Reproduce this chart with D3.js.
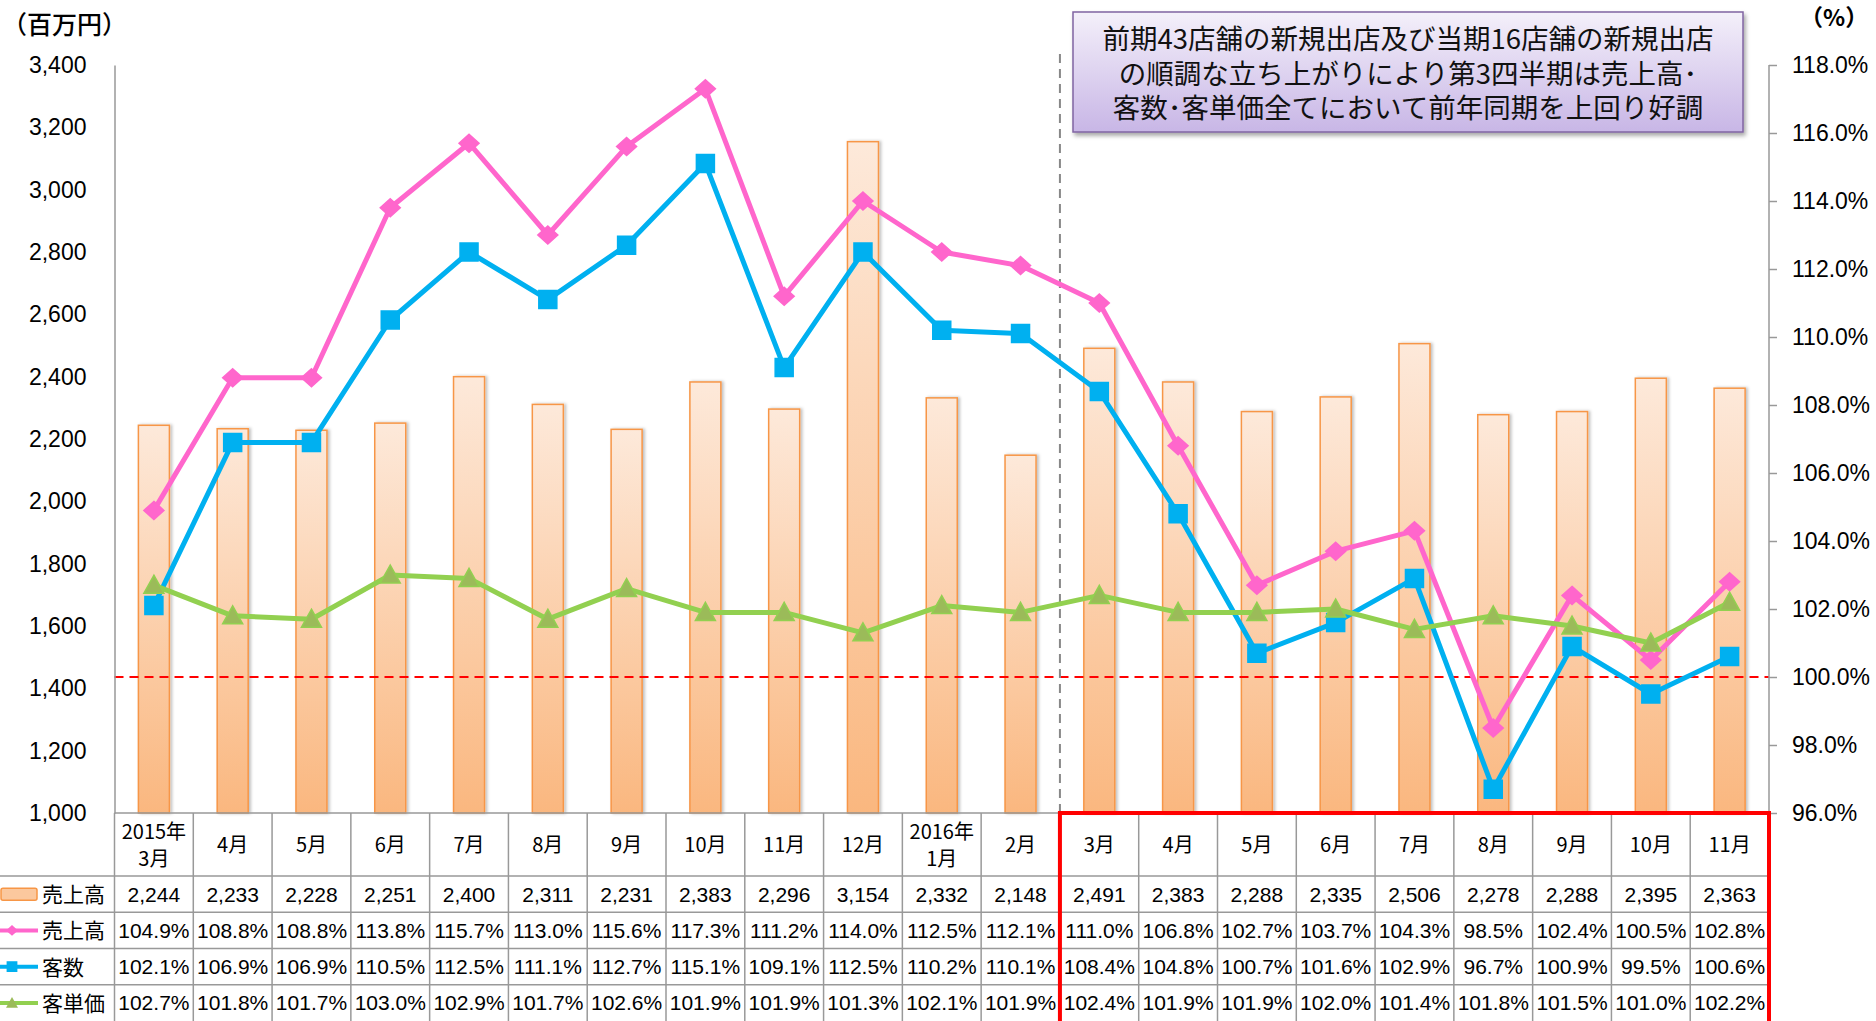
<!DOCTYPE html>
<html lang="ja">
<head>
<meta charset="UTF-8">
<script src="https://d3js.org/d3.v7.min.js"></script>
<title>売上高・客数・客単価 前年同月比</title>
<style>
    body { margin: 0; background: #fff; }
    svg { display: block; font-family: "Liberation Sans", Arial, sans-serif; }
    .jp { font-family: "Noto Sans CJK JP", sans-serif; }
</style>
</head>
<body>
<svg id="chart" width="1876" height="1021"></svg>
<script>
// data (売上高 in 百万円, others in % YoY)
const months = ["2015年|3月", "4月", "5月", "6月", "7月", "8月", "9月", "10月", "11月", "12月",
    "2016年|1月", "2月", "3月", "4月", "5月", "6月", "7月", "8月", "9月", "10月", "11月"];
const sales = [2244, 2233, 2228, 2251, 2400, 2311, 2231, 2383, 2296, 3154, 2332, 2148,
    2491, 2383, 2288, 2335, 2506, 2278, 2288, 2395, 2363];
const salesYoY = [104.9, 108.8, 108.8, 113.8, 115.7, 113.0, 115.6, 117.3, 111.2, 114.0, 112.5, 112.1,
    111.0, 106.8, 102.7, 103.7, 104.3, 98.5, 102.4, 100.5, 102.8];
const customersYoY = [102.1, 106.9, 106.9, 110.5, 112.5, 111.1, 112.7, 115.1, 109.1, 112.5, 110.2, 110.1,
    108.4, 104.8, 100.7, 101.6, 102.9, 96.7, 100.9, 99.5, 100.6];
const unitPriceYoY = [102.7, 101.8, 101.7, 103.0, 102.9, 101.7, 102.6, 101.9, 101.9, 101.3, 102.1, 101.9,
    102.4, 101.9, 101.9, 102.0, 101.4, 101.8, 101.5, 101.0, 102.2];
const leftTicks = [1000, 1200, 1400, 1600, 1800, 2000, 2200, 2400, 2600, 2800, 3000, 3200, 3400];
const rightTicks = [96, 98, 100, 102, 104, 106, 108, 110, 112, 114, 116, 118];
const noteLines = ["前期43店舗の新規出店及び当期16店舗の新規出店",
    "の順調な立ち上がりにより第3四半期は売上高･",
    "客数･客単価全てにおいて前年同期を上回り好調"];

const svg = d3.select("#chart");
const plotLeft = 114.5, plotRight = 1769, plotTop = 65, plotBottom = 813;

const x = d3.scaleBand().domain(d3.range(months.length)).range([plotLeft, plotRight]);
const yL = d3.scaleLinear().domain([1000, 3400]).range([plotBottom, plotTop]);
const yR = d3.scaleLinear().domain([96, 118]).range([plotBottom, plotTop]);
const cx = i => x(i) + x.bandwidth() / 2;

const defs = svg.append("defs");
const barGrad = defs.append("linearGradient").attr("id", "barGrad")
    .attr("x1", 0).attr("y1", 0).attr("x2", 0).attr("y2", 1);
barGrad.append("stop").attr("offset", "0%").attr("stop-color", "#fde9da");
barGrad.append("stop").attr("offset", "100%").attr("stop-color", "#fab77f");
const boxGrad = defs.append("linearGradient").attr("id", "boxGrad")
    .attr("x1", 0).attr("y1", 0).attr("x2", 0).attr("y2", 1);
boxGrad.append("stop").attr("offset", "0%").attr("stop-color", "#f4f0fa");
boxGrad.append("stop").attr("offset", "100%").attr("stop-color", "#c8b6e6");
const shadow = defs.append("filter").attr("id", "shadow")
    .attr("x", "-10%").attr("y", "-10%").attr("width", "130%").attr("height", "140%");
shadow.append("feDropShadow").attr("dx", 2).attr("dy", 3).attr("stdDeviation", 2)
    .attr("flood-color", "#000").attr("flood-opacity", 0.35);
const barShadow = defs.append("filter").attr("id", "barShadow")
    .attr("x", "-30%").attr("y", "-5%").attr("width", "160%").attr("height", "110%");
barShadow.append("feDropShadow").attr("dx", 2).attr("dy", 0).attr("stdDeviation", 1.5)
    .attr("flood-color", "#000").attr("flood-opacity", 0.25);

// bars
const barW = 31;
svg.append("g").selectAll("rect").data(sales).join("rect")
    .attr("x", (d, i) => cx(i) - barW / 2)
    .attr("y", d => yL(d))
    .attr("width", barW)
    .attr("height", d => plotBottom - yL(d))
    .attr("fill", "url(#barGrad)")
    .attr("stroke", "#f79646")
    .attr("stroke-width", 1.5)
    .attr("filter", "url(#barShadow)");

// reference lines
svg.append("line")
    .attr("x1", plotLeft).attr("x2", plotRight).attr("y1", yR(100)).attr("y2", yR(100))
    .attr("stroke", "#ff0000").attr("stroke-width", 2).attr("stroke-dasharray", "9,6");
const splitX = x(12);
svg.append("line")
    .attr("x1", splitX).attr("x2", splitX).attr("y1", 54).attr("y2", plotBottom)
    .attr("stroke", "#888").attr("stroke-width", 2).attr("stroke-dasharray", "9,6");

// axes
const axL = svg.append("g").attr("transform", `translate(${plotLeft},0)`)
    .call(d3.axisLeft(yL).tickValues(leftTicks).tickSize(0).tickPadding(28).tickFormat(d3.format(",")));
axL.select(".domain").attr("stroke", "#999").attr("stroke-width", 1.5);
axL.selectAll("text").attr("font-size", 23).attr("fill", "#000")
    .attr("font-family", "'Liberation Sans', Arial, sans-serif");

const axR = svg.append("g").attr("transform", `translate(${plotRight},0)`)
    .call(d3.axisRight(yR).tickValues(rightTicks).tickSize(8).tickPadding(15).tickFormat(d => d.toFixed(1) + "%"));
axR.select(".domain").attr("stroke", "#999").attr("stroke-width", 1.5).attr("d", `M0,${plotTop}V${plotBottom}`);
axR.selectAll(".tick line").attr("stroke", "#999").attr("stroke-width", 1.5);
axR.selectAll("text").attr("font-size", 23).attr("fill", "#000")
    .attr("font-family", "'Liberation Sans', Arial, sans-serif");

svg.append("text").attr("class", "jp").attr("x", 2).attr("y", 34)
    .attr("font-size", 25).attr("font-weight", 500).text("（百万円）");
svg.append("text").attr("class", "jp").attr("x", 1800).attr("y", 26)
    .attr("font-size", 23).attr("font-weight", "bold").text("（%）");

// lines
const series = [
    { values: salesYoY, color: "#ff66cc", marker: "diamond" },
    { values: customersYoY, color: "#00b0f0", marker: "square" },
    { values: unitPriceYoY, color: "#92d050", marker: "triangle" }
];
const markerPath = {
    diamond: "M0,-9L10,0L0,9L-10,0Z",
    square: "M-9,-9H9V9H-9Z",
    triangle: "M0,-10L10,8H-10Z"
};
const markerFill = { diamond: "#ff66cc", square: "#00b0f0", triangle: "#9bbb59" };
const line = d3.line().x((d, i) => cx(i)).y(d => yR(d));
series.forEach(s => {
    const g = svg.append("g");
    g.append("path").datum(s.values).attr("d", line)
        .attr("fill", "none").attr("stroke", s.color).attr("stroke-width", 5)
        .attr("stroke-linejoin", "round");
    g.selectAll("path.m").data(s.values).join("path").attr("class", "m")
        .attr("transform", (d, i) => `translate(${cx(i)},${yR(d)})`)
        .attr("d", markerPath[s.marker])
        .attr("fill", markerFill[s.marker])
        .attr("stroke", s.color).attr("stroke-width", 1.5);
});

// data table
const headTop = plotBottom, headBottom = 876, tableBottom = 1021;
const rowY = d3.scaleBand().domain(d3.range(4)).range([headBottom, tableBottom]);
const table = svg.append("g");
const gridColor = "#999";

// horizontal lines
table.append("line").attr("x1", plotLeft).attr("x2", plotRight).attr("y1", headTop).attr("y2", headTop)
    .attr("stroke", gridColor).attr("stroke-width", 1.5);
d3.range(4).forEach(r => {
    table.append("line").attr("x1", 0).attr("x2", plotRight)
        .attr("y1", rowY(r)).attr("y2", rowY(r))
        .attr("stroke", gridColor).attr("stroke-width", 1.5);
});
// vertical lines
d3.range(months.length + 1).forEach(i => {
    const xx = i < months.length ? x(i) : plotRight;
    table.append("line").attr("x1", xx).attr("x2", xx).attr("y1", headTop).attr("y2", tableBottom)
        .attr("stroke", gridColor).attr("stroke-width", 1.5);
});

// header
months.forEach((m, i) => {
    const parts = m.split("|");
    const t = table.append("text").attr("class", "jp").attr("text-anchor", "middle")
        .attr("font-size", 20).attr("x", cx(i));
    if (parts.length === 1) {
        t.attr("y", (headTop + headBottom) / 2 + 7).text(parts[0]);
    } else {
        t.append("tspan").attr("x", cx(i)).attr("y", headTop + 26).text(parts[0]);
        t.append("tspan").attr("x", cx(i)).attr("y", headTop + 53).text(parts[1]);
    }
});

// rows
const rows = [
    sales.map(d3.format(",")),
    salesYoY.map(d => d.toFixed(1) + "%"),
    customersYoY.map(d => d.toFixed(1) + "%"),
    unitPriceYoY.map(d => d.toFixed(1) + "%")
];
rows.forEach((vals, r) => {
    table.selectAll(null).data(vals).join("text")
        .attr("x", (d, i) => cx(i))
        .attr("y", rowY(r) + rowY.bandwidth() / 2 + 7.5)
        .attr("text-anchor", "middle")
        .attr("font-size", 21)
        .text(d => d);
});

// legend column
const legendNames = ["売上高", "売上高", "客数", "客単価"];
legendNames.forEach((name, r) => {
    const yc = rowY(r) + rowY.bandwidth() / 2;
    if (r === 0) {
        table.append("rect").attr("x", 1).attr("y", yc - 6).attr("width", 36).attr("height", 12)
            .attr("rx", 2).attr("fill", "#fbc89e").attr("stroke", "#f79646").attr("stroke-width", 1.5);
    } else {
        const s = series[r - 1];
        table.append("line").attr("x1", 0).attr("x2", 38).attr("y1", yc).attr("y2", yc)
            .attr("stroke", s.color).attr("stroke-width", 4);
        table.append("path").attr("transform", `translate(12,${yc}) scale(0.6)`)
            .attr("d", markerPath[s.marker]).attr("fill", markerFill[s.marker]);
    }
    table.append("text").attr("class", "jp").attr("x", 42).attr("y", yc + 8)
        .attr("font-size", 21).text(name);
});

// highlight box for current period
svg.append("rect")
    .attr("x", splitX).attr("y", headTop)
    .attr("width", plotRight - splitX).attr("height", tableBottom - headTop + 10)
    .attr("fill", "none").attr("stroke", "#ff0000").attr("stroke-width", 4);

// note box
const note = svg.append("g");
note.append("rect").attr("x", 1073).attr("y", 12).attr("width", 670).attr("height", 120)
    .attr("fill", "url(#boxGrad)").attr("stroke", "#8064a2").attr("stroke-width", 1.5)
    .attr("filter", "url(#shadow)");
noteLines.forEach((t, i) => {
    note.append("text").attr("class", "jp").attr("x", 1408).attr("y", 49 + i * 34.5)
        .attr("text-anchor", "middle").attr("font-size", 27.5).attr("fill", "#111").text(t);
});
</script>
</body>
</html>
